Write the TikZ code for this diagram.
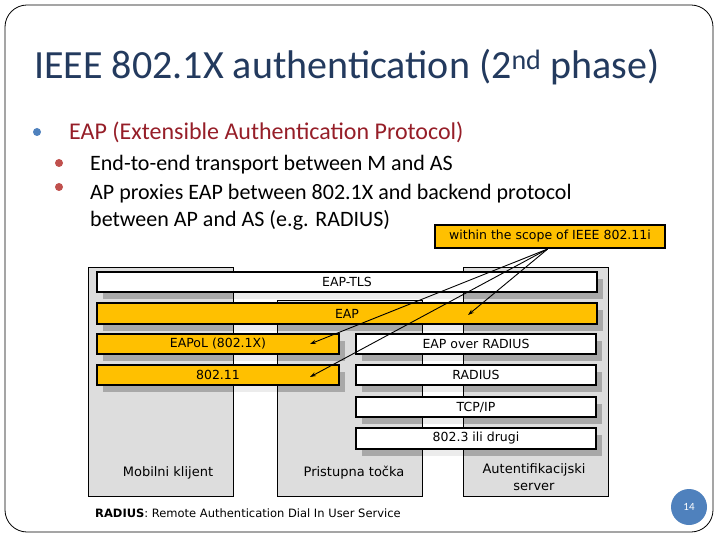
\documentclass[tikz,border=0pt]{standalone}
\usepackage{fontspec}
\setmainfont{Carlito}
\newfontfamily\diag{DejaVu Sans}
\usetikzlibrary{arrows.meta,calc}
\definecolor{titleblue}{RGB}{35,58,94}
\definecolor{bulblue}{RGB}{79,129,189}
\definecolor{bulred}{RGB}{192,80,77}
\definecolor{darkred}{RGB}{150,30,40}
\definecolor{yel}{RGB}{255,192,0}
\definecolor{colgray}{RGB}{221,221,221}
\definecolor{shgray}{RGB}{168,168,168}
\definecolor{shlight}{RGB}{236,236,236}
\tikzset{
  colbox/.style={fill=colgray},
  colline/.style={draw=black, line width=0.6pt},
  barbox/.style={draw=black, line width=2pt, inner sep=0pt, font=\diag\fontsize{12.5}{14}\selectfont},
  whitebar/.style={barbox, fill=white},
  yelbar/.style={barbox, fill=yel},
  lvlone/.style={anchor=base west, inner sep=0pt, text=darkred, font=\fontsize{24}{28}\selectfont},
  lvltwo/.style={anchor=base west, inner sep=0pt, text=black, font=\fontsize{22}{26}\selectfont},
  collabel/.style={inner sep=0pt, font=\diag\fontsize{13}{17}\selectfont, align=center},
  pointer/.style={-{Stealth[length=6pt,width=4pt]}, line width=0.9pt},
}
\begin{document}
\begin{tikzpicture}[x=1pt,y=-1pt]
\useasboundingbox (0,0) rectangle (720,540);
\fill[white] (0,0) rectangle (720,540);
\draw[rounded corners=22pt, line width=0.8pt] (5,5) rectangle (713,532);

% title
\node[anchor=base west, inner sep=0pt, text=titleblue, font=\fontsize{40}{46}\selectfont] (title) at (34,79)
  {IEEE 802.1X authentication (2\textsuperscript{nd} phase)};

% bullets
\fill[bulblue] (37,132) circle (4pt);
\node[lvlone] (b1) at (69,140) {EAP (Extensible Authentication Protocol)};
\fill[bulred] (59,163) circle (4pt);
\node[lvltwo] (b2) at (90,171) {End-to-end transport between M and AS};
\fill[bulred] (59,187) circle (4pt);
\node[lvltwo] (b3) at (90,200) {AP proxies EAP between 802.1X and backend protocol};
\node[lvltwo] (b4) at (90,226) {between AP and AS (e.g. RADIUS)};

% columns (fill)
\fill[colbox] (88,267) rectangle (233,496);
\fill[colbox] (277,300) rectangle (422,496);
\fill[colbox] (463,267) rectangle (608,496);

% shadows (light over gaps, darker over columns)
\foreach \xa/\ya/\xb/\yb in {97/272/597/292, 97/303/597/324, 97/334/339/354, 356/334/596/354,
  97/365/339/385, 356/365/596/385, 356/397/596/417, 356/428/596/449}{
  \fill[shlight] (\xa+6,\ya+7) rectangle (\xb+6,\yb+7);
}
\begin{scope}
  \clip (88,267) rectangle (233,496) (277,300) rectangle (422,496) (463,267) rectangle (608,496);
  \foreach \xa/\ya/\xb/\yb in {97/272/597/292, 97/303/597/324, 97/334/339/354, 356/334/596/354,
    97/365/339/385, 356/365/596/385, 356/397/596/417, 356/428/596/449}{
    \fill[shgray] (\xa+6,\ya+7) rectangle (\xb+6,\yb+7);
  }
\end{scope}

% column outlines
\draw[colline] (88,267) rectangle (233,496);
\draw[colline] (277,300) rectangle (422,496);
\draw[colline] (463,267) rectangle (608,496);

% bars
\node[whitebar, minimum width=500pt, minimum height=20pt] (tls) at (347,282) {EAP-TLS};
\node[yelbar, minimum width=500pt, minimum height=21pt] (eap) at (347,313.5) {EAP};
\node[yelbar, minimum width=242pt, minimum height=20pt] (eapol) at (218,344) {EAPoL (802.1X)};
\node[whitebar, minimum width=240pt, minimum height=20pt] (eor) at (476,344) {EAP over RADIUS};
\node[yelbar, minimum width=242pt, minimum height=20pt] (d11) at (218,375) {802.11};
\node[whitebar, minimum width=240pt, minimum height=20pt] (rad) at (476,375) {RADIUS};
\node[whitebar, minimum width=240pt, minimum height=20pt] (tcp) at (476,407) {TCP/IP};
\node[whitebar, minimum width=240pt, minimum height=21pt] (e3) at (476,438.5) {802.3 ili drugi};

% column labels
\node[collabel] (mk) at (168,473) {Mobilni klijent};
\node[collabel] (pt) at (354,473) {Pristupna točka};
\node[collabel, anchor=north] (as) at (534,463) {Autentifikacijski\\server};

% scope label
\node[draw=black, line width=2pt, fill=yel, minimum width=230pt, minimum height=23pt, inner sep=0pt,
  font=\diag\fontsize{12.5}{14}\selectfont] (scope) at (550,236.5) {within the scope of IEEE 802.11i};
\coordinate (src) at ($(scope.south west)!0.49!(scope.south east)$);
\coordinate (t1) at (310,344);
\coordinate (t2) at (310,377);
\coordinate (t3) at (468,315);
\draw[pointer] (src) -- (t1);
\draw[pointer] (src) -- (t2);
\draw[pointer] (src) -- (t3);

% caption
\node[anchor=base west, inner sep=0pt, font=\diag\fontsize{11.5}{13}\selectfont] (cap) at (95,517)
  {\textbf{RADIUS}: Remote Authentication Dial In User Service};

% page number
\node[circle, fill=bulblue, minimum size=36pt, inner sep=0pt, text=white, font=\fontsize{11}{13}\selectfont] (pg) at (689,507) {14};
\end{tikzpicture}
\end{document}
